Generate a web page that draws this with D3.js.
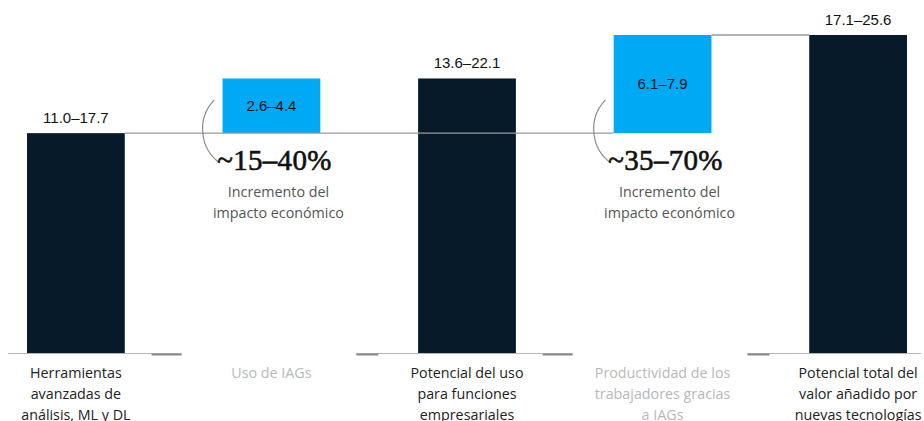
<!DOCTYPE html>
<html>
<head>
<meta charset="utf-8">
<script src="https://cdn.jsdelivr.net/npm/d3@7"></script>
<style>
  html, body { margin: 0; padding: 0; background: #fff; }
  svg { display: block; }
</style>
</head>
<body>
<div id="chart"></div>
<script>
// categories (one array per wrapped label)
const categories = [
  ["Herramientas", "avanzadas de", "análisis, ML y DL"],
  ["Uso de IAGs"],
  ["Potencial del uso", "para funciones", "empresariales"],
  ["Productividad de los", "trabajadores gracias", "a IAGs"],
  ["Potencial total del", "valor añadido por", "nuevas tecnologías"]
];
const lowValues = [11.0, 2.6, 13.6, 6.1, 17.1];
const highValues = [17.7, 4.4, 22.1, 7.9, 25.6];
const baseValues = [0, 17.7, 0, 17.7, 0];
const isIncrement = [false, true, false, true, false];
const increaseLabels = ["~15–40%", "~35–70%"];
const increaseNote = ["Incremento del", "impacto económico"];

const width = 924, height = 421;
const colors = { total: "#071a2a", increment: "#00a9f4", line: "#9a9a9a" };

const svg = d3.select("#chart").append("svg")
  .attr("width", width)
  .attr("height", height);

const keys = categories.map((d, i) => i);

const x = d3.scaleBand().domain(keys).range([27, 907]).paddingInner(0.5).paddingOuter(0);
const y = d3.scaleLinear().domain([0, 25.6]).range([353, 35]);
const bw = x.bandwidth();

const rows = keys.map(i => ({
  i: i,
  lab: categories[i],
  low: lowValues[i],
  high: highValues[i],
  y0: baseValues[i],
  y1: baseValues[i] + highValues[i],
  inc: isIncrement[i]
}));

// baseline pieces: light line under each total, dark short ticks next to increments
const incRows = rows.filter(d => d.inc);
const segs = [
  [x(0) - 19, x(incRows[0].i) - 41],
  [x(incRows[0].i) + bw + 36, x(incRows[1].i) - 41],
  [x(incRows[1].i) + bw + 36, x(4) + bw + 14]
];
svg.selectAll(".base").data(segs).enter().append("line")
  .attr("x1", d => d[0]).attr("x2", d => d[1])
  .attr("y1", y(0) + 0.5).attr("y2", y(0) + 0.5)
  .attr("stroke", "#b5b5b5").attr("stroke-width", 1);

const ticks = [];
incRows.forEach(d => {
  ticks.push([x(d.i) - 71, x(d.i) - 41]);
  ticks.push([x(d.i) + bw + 36, x(d.i) + bw + 58]);
});
svg.selectAll(".tick").data(ticks).enter().append("line")
  .attr("x1", d => d[0]).attr("x2", d => d[1])
  .attr("y1", y(0) + 1.5).attr("y2", y(0) + 1.5)
  .attr("stroke", "#8a8a8a").attr("stroke-width", 2);

// bars
svg.selectAll(".bar").data(rows).enter().append("rect")
  .attr("x", d => x(d.i))
  .attr("y", d => y(d.y1))
  .attr("width", bw)
  .attr("height", d => y(d.y0) - y(d.y1))
  .attr("fill", d => d.inc ? colors.increment : colors.total);

// connectors (drawn over the bars)
svg.append("line")
  .attr("x1", x(0) + bw).attr("x2", x(3))
  .attr("y1", y(highValues[0])).attr("y2", y(highValues[0]))
  .attr("stroke", colors.line).attr("stroke-width", 1.3);
svg.append("line")
  .attr("x1", x(3) + bw).attr("x2", x(4))
  .attr("y1", y(rows[3].y1)).attr("y2", y(rows[3].y1))
  .attr("stroke", colors.line).attr("stroke-width", 1.3);

// value labels
const fmt = d3.format(".1f");
svg.selectAll(".val").data(rows).enter().append("text")
  .attr("x", d => x(d.i) + bw / 2)
  .attr("y", d => d.inc ? (y(d.y0) + y(d.y1)) / 2 + 5 : y(d.y1) - 10)
  .attr("text-anchor", "middle")
  .style("font-family", "'Liberation Sans', Arial, sans-serif")
  .style("font-size", "15px")
  .attr("fill", "#111")
  .text(d => fmt(d.low) + "–" + fmt(d.high));

// increment annotations
incRows.forEach((d, k) => {
  const cx = x(d.i) + 22, cy = y(d.y0) - 4, r = 42;
  const p = d3.path();
  p.arc(cx, cy, r, 126 * Math.PI / 180, 224 * Math.PI / 180, false);
  svg.append("path")
    .attr("d", p.toString())
    .attr("fill", "none")
    .attr("stroke", "#8a8a8a")
    .attr("stroke-width", 1.2);

  const mid = x(d.i) + bw / 2;
  svg.append("text")
    .attr("x", mid + 3)
    .attr("y", 170)
    .attr("text-anchor", "middle")
    .style("font-family", "'Liberation Serif', 'DejaVu Serif', serif")
    .style("font-size", "29px")
    .style("letter-spacing", "0.3px")
    .attr("fill", "#111")
    .attr("stroke", "#111")
    .attr("stroke-width", 0.6)
    .text(increaseLabels[k]);

  svg.append("text")
    .attr("text-anchor", "middle")
    .style("font-family", "'Open Sans', sans-serif")
    .style("font-size", "14.3px")
    .attr("fill", "#555")
    .selectAll("tspan").data(increaseNote).enter().append("tspan")
    .attr("x", mid + 7)
    .attr("y", (t, j) => 197 + j * 21)
    .text(t => t);
});

// category labels
svg.selectAll(".cat").data(rows).enter().append("text")
  .attr("text-anchor", "middle")
  .style("font-family", "'Open Sans', sans-serif")
  .style("font-size", "14.3px")
  .attr("fill", d => d.inc ? "#b8b8b8" : "#222")
  .each(function (d) {
    d3.select(this).selectAll("tspan").data(d.lab).enter().append("tspan")
      .attr("x", x(d.i) + bw / 2)
      .attr("y", (t, j) => 378 + j * 21)
      .text(t => t);
  });
</script>
</body>
</html>
